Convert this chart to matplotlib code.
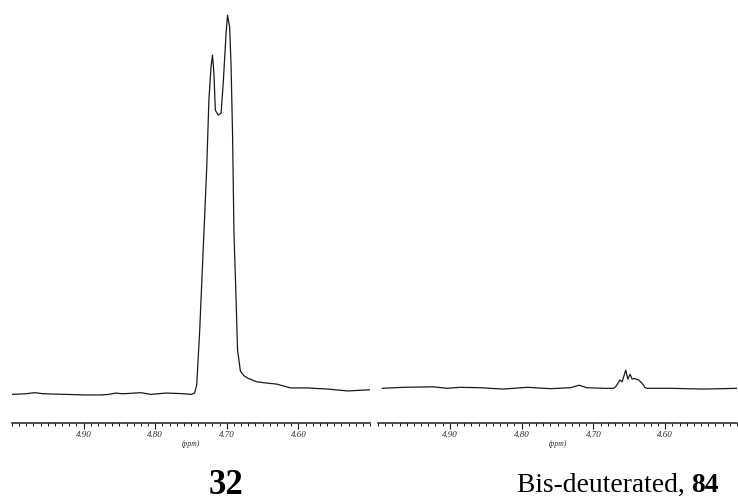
import matplotlib
matplotlib.use("Agg")
import matplotlib.pyplot as plt
from matplotlib.ticker import MultipleLocator, FixedLocator, FixedFormatter

# --- 1H NMR traces (chemical shift in ppm, intensity in arbitrary units) ---
left_ppm = [5.000, 4.982, 4.968, 4.958, 4.946, 4.925, 4.897, 4.876, 4.865, 4.855,
            4.848, 4.841, 4.820, 4.806, 4.794, 4.785, 4.763, 4.749, 4.745, 4.742,
            4.738, 4.733, 4.728, 4.725, 4.722, 4.720, 4.718, 4.716, 4.712, 4.708,
            4.705, 4.701, 4.699, 4.696, 4.694, 4.692, 4.690, 4.687, 4.685, 4.681,
            4.676, 4.670, 4.658, 4.645, 4.630, 4.611, 4.587, 4.559, 4.531, 4.503,
            4.499]
left_int = [-0.1, 0.05, 0.35, 0.1, 0.0, -0.1, -0.25, -0.25, -0.1, 0.25,
            0.1, 0.1, 0.35, -0.1, 0.1, 0.25, 0.1, -0.1, 0.25, 2.4,
            16.1, 37.9, 59.7, 77.4, 86.1, 89.2, 84.5, 74.7, 73.4, 73.9,
            81.8, 95.0, 99.7, 96.6, 86.1, 68.7, 42.4, 24.7, 11.6, 6.0,
            4.8, 4.1, 3.2, 2.9, 2.6, 1.6, 1.6, 1.3, 0.8, 1.1,
            1.1]

right_ppm = [4.994, 4.965, 4.923, 4.904, 4.886, 4.858, 4.826, 4.792, 4.760, 4.732,
             4.720, 4.709, 4.686, 4.672, 4.669, 4.663, 4.660, 4.655, 4.652, 4.649,
             4.646, 4.643, 4.637, 4.632, 4.628, 4.625, 4.593, 4.547, 4.499]
right_int = [1.5, 1.76, 1.9, 1.5, 1.76, 1.66, 1.3, 1.76, 1.4, 1.66,
             2.3, 1.66, 1.5, 1.5, 1.9, 3.7, 3.2, 6.3, 3.9, 5.2,
             3.9, 4.1, 3.7, 2.8, 1.66, 1.5, 1.5, 1.3, 1.5]

major_ticks = [4.90, 4.80, 4.70, 4.60]
major_labels = ["4.90", "4.80", "4.70", "4.60"]
captions = ["32", ("Bis-deuterated, ", "84")]

W, H = 738, 503
fig = plt.figure(figsize=(W / 100, H / 100), dpi=100)
fig.patch.set_facecolor("white")

axis_y = 423          # pixel row of the ppm scale line
bottom = (H - axis_y) / H
height = axis_y / H

ax_l = fig.add_axes([12 / W, bottom, (370 - 12) / W, height])
ax_r = fig.add_axes([378 / W, bottom, (737 - 378) / W, height])

for ax, ppm, inten in ((ax_l, left_ppm, left_int), (ax_r, right_ppm, right_int)):
    ax.plot(ppm, inten, color="#1a1a1a", lw=0.9, solid_joinstyle="round")
    ax.set_xlim(5.00, 4.50)
    ax.set_ylim(-7.63, 103.7)
    for s in ("top", "right", "left"):
        ax.spines[s].set_visible(False)
    ax.spines["bottom"].set_linewidth(1.1)
    ax.spines["bottom"].set_color("#1a1a1a")
    ax.set_yticks([])
    ax.xaxis.set_major_locator(FixedLocator(major_ticks))
    ax.xaxis.set_major_formatter(FixedFormatter(major_labels))
    ax.xaxis.set_minor_locator(MultipleLocator(0.01))
    ax.tick_params(axis="x", which="major", direction="out", length=4.0,
                   width=0.8, color="#1a1a1a", pad=1.5)
    ax.tick_params(axis="x", which="minor", direction="out", length=2.4,
                   width=0.7, color="#1a1a1a")
    for lab in ax.get_xticklabels():
        lab.set_fontfamily("Liberation Serif")
        lab.set_fontstyle("italic")
        lab.set_fontsize(6.5)
        lab.set_color("#2a2a2a")
    ax.set_xlabel("(ppm)", fontsize=5.5, fontstyle="italic",
                  fontfamily="Liberation Serif", color="#2a2a2a", labelpad=1.0)
    ax.patch.set_alpha(0)

# compound labels beneath each spectrum
cap_y = (H - 485) / H
fig.text(226 / W, cap_y, captions[0], fontfamily="Liberation Serif",
         fontweight="bold", fontsize=25, ha="center", va="center")
t1 = fig.text(517 / W, cap_y, captions[1][0], fontfamily="Liberation Serif",
              fontsize=19.8, ha="left", va="center")
fig.canvas.draw()
bb = t1.get_window_extent()
fig.text(bb.x1 / W, cap_y, captions[1][1], fontfamily="Liberation Serif",
         fontweight="bold", fontsize=19.8, ha="left", va="center")

fig.savefig("out.png", dpi=100, facecolor="white")
